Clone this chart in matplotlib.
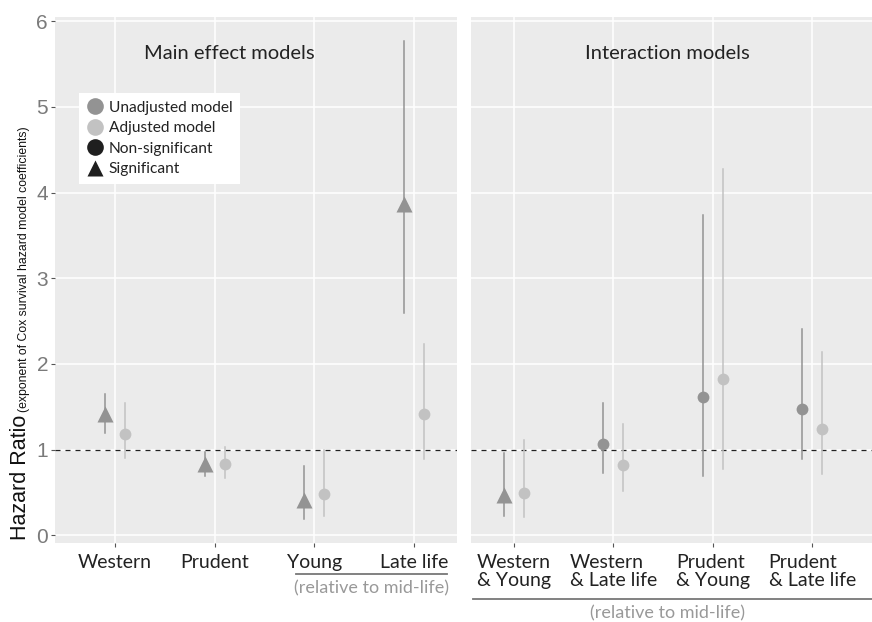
import matplotlib.pyplot as plt
from matplotlib.lines import Line2D
import numpy as np

# main effect models
main_labels = ['Western', 'Prudent', 'Young', 'Late life']
main_unadj = [1.41, 0.83, 0.41, 3.87]
main_unadj_lo = [1.19, 0.69, 0.19, 2.59]
main_unadj_hi = [1.65, 0.97, 0.81, 5.77]
main_unadj_sig = [True, True, True, True]
main_adj = [1.18, 0.83, 0.48, 1.41]
main_adj_lo = [0.90, 0.67, 0.22, 0.89]
main_adj_hi = [1.55, 1.03, 1.00, 2.23]
main_adj_sig = [False, False, False, False]

# interaction models
int_labels = ['Western\n& Young', 'Western\n& Late life', 'Prudent\n& Young', 'Prudent\n& Late life']
int_unadj = [0.47, 1.07, 1.61, 1.47]
int_unadj_lo = [0.22, 0.73, 0.69, 0.89]
int_unadj_hi = [0.96, 1.55, 3.74, 2.41]
int_unadj_sig = [True, False, False, False]
int_adj = [0.49, 0.82, 1.82, 1.24]
int_adj_lo = [0.21, 0.52, 0.77, 0.72]
int_adj_hi = [1.11, 1.30, 4.28, 2.14]
int_adj_sig = [False, False, False, False]

C_UNADJ = '#939393'
C_ADJ = '#c2c2c2'
BG = '#ebebeb'
SANS = ['Lato', 'DejaVu Sans']
HELV = ['Liberation Sans', 'DejaVu Sans']
DODGE = 0.1

fig = plt.figure(figsize=(8.72, 6.22), dpi=100)
axL = fig.add_axes([55/872, 79/622, 402/872, 526/622])
axR = fig.add_axes([471/872, 79/622, 401/872, 526/622])


def draw(ax, vals, lo, hi, sig, offset, color):
    x = np.arange(1, len(vals) + 1) + offset
    for xi, v, l, h, s in zip(x, vals, lo, hi, sig):
        ax.plot([xi, xi], [l, h], color=color, lw=1.1, zorder=3)
        if s:
            ax.plot(xi, v, marker='^', ms=11, color=color, mec='none', zorder=4)
        else:
            ax.plot(xi, v, marker='o', ms=8.5, color=color, mec='none', zorder=4)


for ax in (axL, axR):
    ax.set_facecolor(BG)
    for sp in ax.spines.values():
        sp.set_visible(False)
    ax.set_ylim(-0.09, 6.05)
    ax.set_yticks(range(0, 7))
    ax.set_xticks(range(1, 5))
    ax.grid(True, color='white', lw=1.1)
    ax.set_axisbelow(True)
    ax.axhline(1, color='#222222', lw=0.9, ls=(0, (4, 4)), zorder=2)
    ax.tick_params(axis='x', length=3, color='#555555', pad=5, labelcolor='#222222')

axL.set_xlim(0.4, 4.43)
axR.set_xlim(0.57, 4.6)

draw(axL, main_unadj, main_unadj_lo, main_unadj_hi, main_unadj_sig, -DODGE, C_UNADJ)
draw(axL, main_adj, main_adj_lo, main_adj_hi, main_adj_sig, DODGE, C_ADJ)
draw(axR, int_unadj, int_unadj_lo, int_unadj_hi, int_unadj_sig, -DODGE, C_UNADJ)
draw(axR, int_adj, int_adj_lo, int_adj_hi, int_adj_sig, DODGE, C_ADJ)

axL.set_xticklabels(main_labels, fontsize=14, family=SANS)
axL.set_yticklabels([str(i) for i in range(7)], fontsize=15, color='#7a7a7a', family=HELV)
axL.tick_params(axis='y', length=3, color='#555555', pad=2)

axR.set_xticklabels(int_labels, fontsize=14, family=SANS, multialignment='left',
                    linespacing=1.05)
axR.tick_params(axis='y', length=0, labelleft=False)

axL.text(0.433, 0.93, 'Main effect models', transform=axL.transAxes, ha='center',
         va='center', fontsize=14.5, color='#222222', family=SANS)
axR.text(0.489, 0.93, 'Interaction models', transform=axR.transAxes, ha='center',
         va='center', fontsize=14.5, color='#222222', family=SANS)

# legend
handles = [
    Line2D([], [], marker='o', ls='none', color=C_UNADJ, mec='none', ms=12),
    Line2D([], [], marker='o', ls='none', color=C_ADJ, mec='none', ms=12),
    Line2D([], [], marker='o', ls='none', color='#1f1f1f', mec='none', ms=12),
    Line2D([], [], marker='^', ls='none', color='#1f1f1f', mec='none', ms=12),
]
leg = axL.legend(handles, ['Unadjusted model', 'Adjusted model', 'Non-significant', 'Significant'],
                 loc='upper left', bbox_to_anchor=(0.06, 0.856), borderaxespad=0,
                 frameon=True, fancybox=False, framealpha=1, facecolor='white',
                 edgecolor='none', prop={'family': SANS, 'size': 11.2},
                 handlelength=1.0, handletextpad=0.4, labelspacing=0.42,
                 borderpad=0.5)
for t in leg.get_texts():
    t.set_color('#222222')

# y label in two sizes: small part follows the big one
big = fig.text(20/872, 1 - 540/622, 'Hazard Ratio', rotation=90, ha='center', va='bottom',
               fontsize=15.5, color='#111111', family=HELV)
plt.annotate('(exponent of Cox survival hazard model coefficients)', xy=(1, 1),
             xycoords=big, xytext=(0, 3), textcoords='offset pixels',
             rotation=90, ha='right', va='bottom', fontsize=8.8, color='#111111',
             family=HELV, annotation_clip=False)

# brackets under the x labels
fig.add_artist(Line2D([296/872, 447/872], [1 - 574/622, 1 - 574/622],
                      color='#777777', lw=1.3))
fig.text(371/872, 1 - 588/622, '(relative to mid-life)', ha='center', va='center',
         fontsize=13, color='#999999', family=SANS)
fig.add_artist(Line2D([473/872, 872/872], [1 - 599/622, 1 - 599/622],
                      color='#777777', lw=1.3))
fig.text(667/872, 1 - 613/622, '(relative to mid-life)', ha='center', va='center',
         fontsize=13, color='#999999', family=SANS)

fig.savefig('out.png', dpi=100)
